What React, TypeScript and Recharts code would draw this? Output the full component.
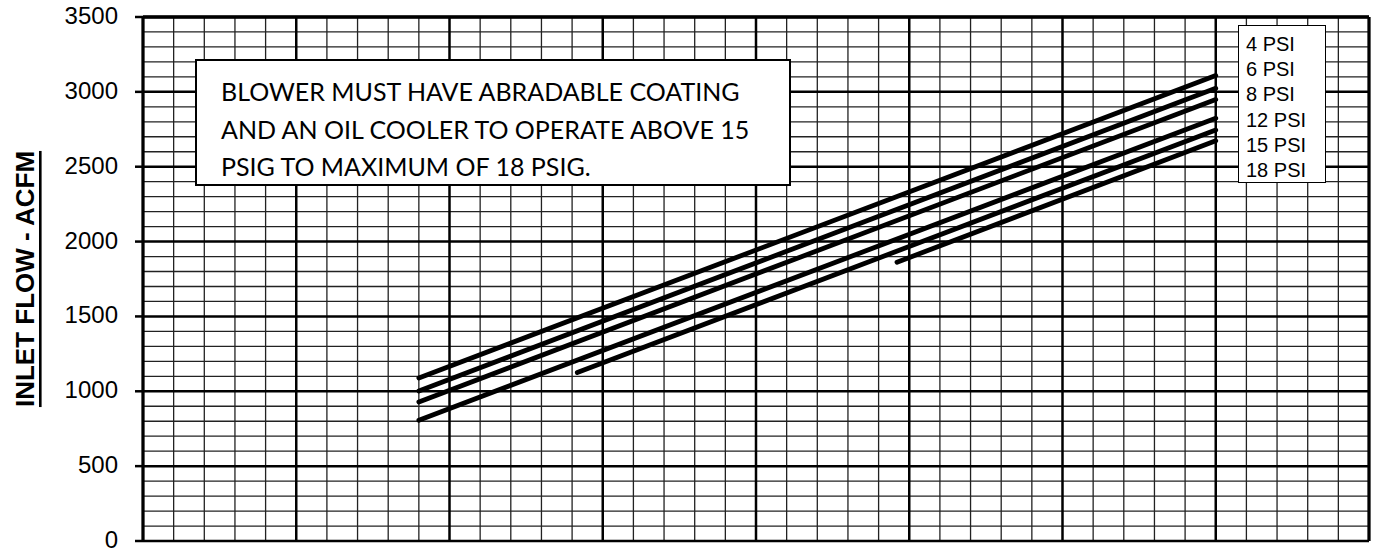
import React from 'react';
import { LineChart, Line, XAxis, YAxis, ReferenceLine, Legend } from 'recharts';

// ---- data ----
const xMajorTicks = [0, 5, 10, 15, 20, 25, 30, 35, 40];
const xMinorTicks = Array.from({ length: 41 }, (_, i) => i).filter((v) => v % 5 !== 0);
const yTicks = [0, 500, 1000, 1500, 2000, 2500, 3000, 3500];
const yMinorTicks = Array.from({ length: 36 }, (_, i) => i * 100).filter((v) => v % 500 !== 0);

const seriesNames = ['4 PSI', '6 PSI', '8 PSI', '12 PSI', '15 PSI', '18 PSI'];
const psi4X = [9, 35];
const psi4Y = [1089, 3109];
const psi6X = [9, 35];
const psi6Y = [1002, 3024];
const psi8X = [9, 35];
const psi8Y = [929, 2949];
const psi12X = [9, 35];
const psi12Y = [807, 2824];
const psi15X = [14.17, 35];
const psi15Y = [1125, 2745];
const psi18X = [24.6, 35];
const psi18Y = [1862, 2673];

const noteLines = [
  'BLOWER MUST HAVE ABRADABLE COATING',
  'AND AN OIL COOLER TO OPERATE ABOVE 15',
  'PSIG TO MAXIMUM OF 18 PSIG.',
];

const build = (xs: number[], ys: number[]) => xs.map((x, i) => ({ x, y: ys[i] }));
const series = [
  build(psi4X, psi4Y),
  build(psi6X, psi6Y),
  build(psi8X, psi8Y),
  build(psi12X, psi12Y),
  build(psi15X, psi15Y),
  build(psi18X, psi18Y),
];

const renderLegend = () => (
  <div
    style={{
      border: '1.5px solid #000',
      background: '#fff',
      width: 88,
      height: 158,
      boxSizing: 'border-box',
      padding: '6px 0 0 7px',
      fontFamily: '"Liberation Sans", Arial, sans-serif',
      fontSize: 20,
      lineHeight: '25.2px',
      color: '#000',
      textAlign: 'left',
    }}
  >
    {seriesNames.map((n) => (
      <div key={n}>{n}</div>
    ))}
  </div>
);

const YTick = (props: any) => {
  const { x, y, payload } = props;
  return (
    <text
      x={x}
      y={y}
      dy={7}
      textAnchor="end"
      style={{ fill: '#000', fontSize: 24, fontFamily: '"Liberation Sans", Arial, sans-serif' }}
    >
      {payload.value}
    </text>
  );
};

const yLabel = (props: any) => {
  const vb = props.viewBox || { x: 0, y: 17, width: 143, height: 524 };
  const cx = 25;
  const cy = vb.y + vb.height / 2;
  return (
    <text
      x={cx}
      y={cy}
      transform={`rotate(-90, ${cx}, ${cy})`}
      textAnchor="middle"
      dominantBaseline="central"
      style={{
        fontFamily: '"Liberation Sans", Arial, sans-serif',
        fontWeight: 'bold',
        fontSize: 26,
        textDecoration: 'underline',
        fill: '#000',
      }}
    >
      INLET FLOW - ACFM
    </text>
  );
};

export default function App() {
  return (
    <div style={{ position: 'absolute', left: 0, top: 0, width: 1375, height: 549, background: '#fff' }}>
      <LineChart width={1375} height={549} margin={{ top: 17, right: 6, bottom: 8, left: 0 }}>
        <XAxis
          type="number"
          dataKey="x"
          domain={[0, 40]}
          ticks={xMajorTicks}
          interval={0}
          height={0}
          tick={false}
          tickSize={8}
          tickLine={{ stroke: '#000', strokeWidth: 2.5 }}
          axisLine={{ stroke: '#000', strokeWidth: 3 }}
          allowDataOverflow
        />
        <YAxis
          type="number"
          domain={[0, 3500]}
          ticks={yTicks}
          interval={0}
          width={143}
          tickSize={8}
          tickMargin={17}
          tick={<YTick />}
          tickLine={{ stroke: '#000', strokeWidth: 2.5 }}
          axisLine={{ stroke: '#000', strokeWidth: 3 }}
          label={{ content: yLabel }}
          allowDataOverflow
        />
        {xMinorTicks.map((v) => (
          <ReferenceLine key={'xm' + v} x={v} stroke="#222" strokeWidth={1.3} />
        ))}
        {yMinorTicks.map((v) => (
          <ReferenceLine key={'ym' + v} y={v} stroke="#222" strokeWidth={1.3} />
        ))}
        {xMajorTicks.map((v) => (
          <ReferenceLine key={'xM' + v} x={v} stroke="#000" strokeWidth={2.5} />
        ))}
        {yTicks.map((v) => (
          <ReferenceLine key={'yM' + v} y={v} stroke="#000" strokeWidth={2.5} />
        ))}
        <ReferenceLine y={3500} stroke="#000" strokeWidth={3.5} />
        <ReferenceLine x={40} stroke="#000" strokeWidth={3} />
        {series.map((d, i) => (
          <Line
            key={seriesNames[i]}
            data={d}
            dataKey="y"
            name={seriesNames[i]}
            type="linear"
            stroke="#000"
            strokeWidth={4.8}
            strokeLinecap="round"
            dot={false}
            activeDot={false}
            isAnimationActive={false}
          />
        ))}
        <Legend
          layout="horizontal"
          verticalAlign="middle"
          align="center"
          content={renderLegend}
          wrapperStyle={{ position: 'absolute', left: 1238, top: 25, width: 88, height: 158 }}
        />
      </LineChart>
      <div
        style={{
          position: 'absolute',
          left: 195,
          top: 59,
          width: 596,
          height: 127,
          boxSizing: 'border-box',
          border: '2px solid #000',
          background: '#fff',
          padding: '12px 0 0 24px',
          fontFamily: 'Lato, "Open Sans", sans-serif',
          fontSize: 25,
          lineHeight: '37.5px',
          color: '#000',
          whiteSpace: 'nowrap',
        }}
      >
        {noteLines.map((l) => (
          <div key={l}>{l}</div>
        ))}
      </div>
    </div>
  );
}
